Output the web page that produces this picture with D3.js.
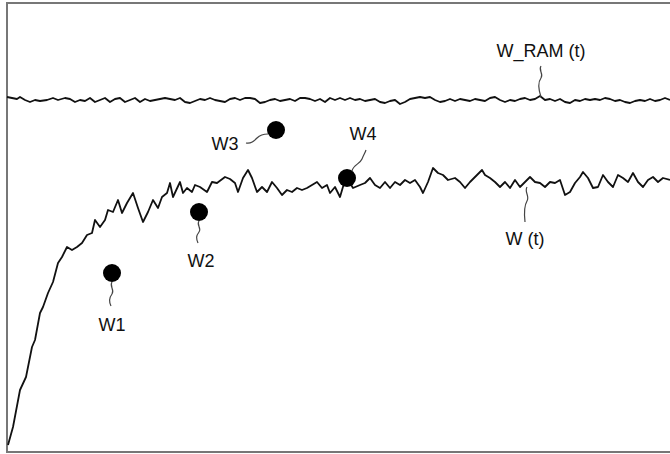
<!DOCTYPE html>
<html>
<head>
<meta charset="utf-8">
<script src="https://cdn.jsdelivr.net/npm/d3@7"></script>
<style>
  html, body { margin: 0; padding: 0; background: #fff; }
  svg { display: block; }
  text { font-family: "Liberation Sans", Arial, sans-serif; fill: #111; }
</style>
</head>
<body>
<div id="chart"></div>
<script>
const width = 670;
const height = 454;

// W(t): [t, value]
const wPoints = [
    [1, 7], [6, 25], [13, 62], [19, 75], [25, 105], [28, 112], [33, 139], [36, 145],
    [41, 159], [46, 170], [51, 189], [55, 195], [60, 205], [65, 202], [70, 205], [75, 209],
    [80, 217], [85, 219], [88, 232], [93, 225], [98, 232], [101, 242], [106, 240], [111, 252],
    [115, 239], [120, 249], [126, 259], [131, 244], [136, 230], [141, 240], [146, 252], [151, 244],
    [155, 255], [160, 259], [163, 269], [166, 255], [173, 270], [176, 259], [180, 264], [185, 260],
    [188, 267], [193, 265], [200, 260], [205, 270], [210, 269], [218, 275], [223, 273], [228, 269],
    [231, 260], [236, 274], [241, 282], [245, 274], [250, 260], [255, 265], [260, 260], [265, 270],
    [270, 264], [275, 257], [280, 262], [285, 260], [290, 264], [295, 262], [300, 264], [305, 267],
    [310, 270], [315, 264], [320, 267], [323, 259], [328, 265], [333, 255], [338, 272], [343, 269],
    [346, 264], [353, 267], [358, 269], [363, 274], [368, 267], [373, 264], [378, 270], [383, 264],
    [388, 270], [393, 267], [398, 272], [403, 269], [408, 272], [413, 265], [416, 259], [421, 270],
    [426, 284], [431, 279], [436, 277], [441, 272], [448, 274], [453, 270], [458, 264], [463, 270],
    [470, 277], [475, 282], [478, 277], [483, 274], [488, 270], [493, 265], [498, 270], [503, 264],
    [508, 272], [513, 265], [518, 270], [523, 275], [528, 270], [533, 269], [538, 265], [543, 270],
    [548, 269], [553, 272], [558, 257], [563, 260], [568, 269], [573, 275], [576, 280], [581, 274],
    [586, 264], [591, 265], [596, 277], [601, 270], [606, 265], [611, 277], [616, 274], [621, 270],
    [626, 279], [631, 270], [636, 265], [641, 272], [646, 275], [651, 270], [656, 274], [663, 272]
];

// W_RAM(t): [t, value]
const wRamPoints = [
    [0, 355], [5, 354], [10, 353], [13, 355], [18, 352], [23, 350], [28, 352], [33, 351],
    [40, 352], [46, 354], [51, 352], [58, 354], [63, 353], [68, 350], [73, 352], [78, 351],
    [83, 354], [88, 350], [93, 352], [98, 354], [103, 350], [108, 353], [113, 354], [118, 350],
    [123, 352], [128, 354], [133, 350], [138, 353], [143, 351], [148, 352], [153, 353], [158, 354],
    [163, 353], [168, 352], [173, 354], [178, 350], [183, 349], [188, 351], [193, 353], [198, 352],
    [203, 354], [208, 352], [213, 351], [218, 350], [223, 353], [228, 354], [233, 352], [238, 354],
    [243, 354], [248, 353], [253, 349], [258, 350], [263, 352], [268, 353], [273, 351], [278, 352],
    [283, 353], [288, 351], [293, 354], [298, 354], [303, 353], [308, 351], [313, 353], [318, 350],
    [323, 354], [328, 352], [333, 354], [338, 352], [343, 354], [348, 352], [353, 353], [358, 351],
    [363, 352], [368, 353], [373, 350], [378, 349], [383, 351], [388, 352], [393, 348], [398, 350],
    [403, 353], [408, 354], [413, 355], [418, 354], [423, 355], [428, 352], [433, 350], [438, 351],
    [443, 353], [448, 351], [453, 353], [458, 352], [463, 351], [468, 353], [473, 352], [478, 351],
    [483, 354], [488, 355], [493, 352], [498, 350], [503, 352], [508, 351], [513, 353], [518, 354],
    [523, 352], [528, 353], [533, 356], [538, 352], [543, 353], [548, 351], [553, 353], [558, 350],
    [563, 349], [568, 352], [573, 351], [578, 353], [583, 352], [588, 353], [593, 352], [598, 354],
    [603, 353], [608, 351], [613, 352], [618, 350], [623, 349], [628, 351], [633, 352], [638, 351],
    [643, 353], [648, 351], [653, 352], [658, 354], [663, 352]
];

// sample points
const markerNames = ["W1", "W2", "W3", "W4"];
const markerT = [105, 192, 269, 340];
const markerV = [179, 240, 322, 274];

// curve labels
const curveNames = ["W_RAM (t)", "W (t)"];
const curveLabelT = [534, 518];
const curveLabelV = [395, 207];

// label / leader layout relative to each marker
const markerLayout = {
    W1: { dx: 0, dy: 58, leader: "M0,9 c-3,4 3,8 0,12 s-3,8 -1,12" },
    W2: { dx: 2, dy: 55, leader: "M0,9 c-3,4 3,7 0,11 s-3,6 -1,11" },
    W3: { dx: -51, dy: 20, leader: "M-30,13 c5,1 8,-2 11,-5 s6,-4 11,-4" },
    W4: { dx: 16, dy: -38, leader: "M5,-7 c1,-6 8,-7 10,-12 s3,-6 4,-9" }
};
const curveLeaders = [
    "M0,9 c-3,4 3,8 0,12 s-3,10 0,19",
    "M2,-58 c-3,5 3,9 0,14 s-3,12 -2,21"
];

let svg = d3.select("#chart").append("svg")
    .attr("width", width)
    .attr("height", height);

let xScale = d3.scaleLinear()
    .domain([0, 663])
    .range([7, 670]);

let yScale = d3.scaleLinear()
    .domain([0, 449])
    .range([452, 3]);

// frame
svg.append("rect")
    .attr("x", xScale(0))
    .attr("y", yScale(449))
    .attr("width", 680)
    .attr("height", yScale(0) - yScale(449))
    .attr("fill", "none")
    .attr("stroke", "#777")
    .attr("stroke-width", 2);

let line = d3.line()
    .x(d => xScale(d[0]))
    .y(d => yScale(d[1]));

svg.selectAll("path.curve")
    .data([wRamPoints, wPoints])
    .join("path")
        .attr("class", "curve")
        .attr("d", line)
        .attr("fill", "none")
        .attr("stroke", "#111")
        .attr("stroke-width", 1.8)
        .attr("stroke-linejoin", "round");

// curve labels and leaders
let curveG = svg.selectAll("g.curve-label")
    .data(curveNames)
    .join("g")
        .attr("class", "curve-label")
        .attr("transform", (d, i) => `translate(${xScale(curveLabelT[i])},${yScale(curveLabelV[i])})`);

curveG.append("text")
    .attr("text-anchor", "middle")
    .style("font-size", "18px")
    .text(d => d);

curveG.append("path")
    .attr("d", (d, i) => curveLeaders[i])
    .attr("fill", "none")
    .attr("stroke", "#444")
    .attr("stroke-width", 1.2);

// markers
let markers = svg.selectAll("g.marker")
    .data(markerNames)
    .join("g")
        .attr("class", "marker")
        .attr("transform", (d, i) => `translate(${xScale(markerT[i])},${yScale(markerV[i])})`);

markers.append("path")
    .attr("d", d => markerLayout[d].leader)
    .attr("fill", "none")
    .attr("stroke", "#444")
    .attr("stroke-width", 1.2);

markers.append("circle")
    .attr("r", 9)
    .attr("fill", "#000");

markers.append("text")
    .attr("x", d => markerLayout[d].dx)
    .attr("y", d => markerLayout[d].dy)
    .attr("text-anchor", "middle")
    .style("font-size", "18px")
    .text(d => d);
</script>
</body>
</html>
